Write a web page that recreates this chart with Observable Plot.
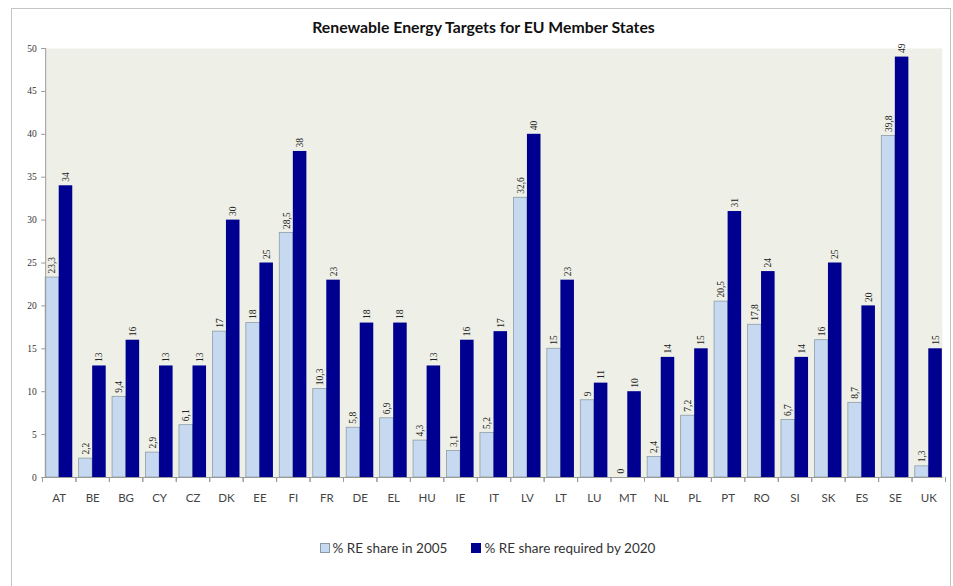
<!DOCTYPE html>
<html>
<head>
<meta charset="utf-8">
<script src="https://cdn.jsdelivr.net/npm/d3@7"></script>
<script src="https://cdn.jsdelivr.net/npm/@observablehq/plot@0.6"></script>
<style>
  html, body { margin: 0; padding: 0; background: #fff; }
  body { position: relative; width: 953px; height: 586px; overflow: hidden; font-family: Lato, "Open Sans", sans-serif; }
  #border { position: absolute; left: 11px; top: 8px; width: 940px; height: 620px; border: 1px solid #c4c4c4; box-sizing: border-box; pointer-events: none; }
  #title { height: 38px; box-sizing: border-box; padding-top: 17px; padding-left: 14px; line-height: 20px; font-size: 15.8px; font-weight: bold; text-align: center; color: #111; }
  #chart svg { display: block; }
  #legend { margin-top: 22px; height: 16px; line-height: 16px; font-size: 13.5px; color: #333; text-align: center; padding-left: 22px; }
  .item { display: inline-block; margin: 0 12px; }
  .sw { display: inline-block; width: 8px; height: 8px; margin-right: 3px; vertical-align: 0px; border: 1px solid #8c9aa8; }
</style>
</head>
<body>
<div id="border"></div>
<div id="title">Renewable Energy Targets for EU Member States</div>
<div id="chart"></div>
<div id="legend"></div>
<script>
const countries = ["AT","BE","BG","CY","CZ","DK","EE","FI","FR","DE","EL","HU","IE","IT","LV","LT","LU","MT","NL","PL","PT","RO","SI","SK","ES","SE","UK"];
const share2005 = [23.3,2.2,9.4,2.9,6.1,17,18,28.5,10.3,5.8,6.9,4.3,3.1,5.2,32.6,15,9,0,2.4,7.2,20.5,17.8,6.7,16,8.7,39.8,1.3];
const target2020 = [34,13,16,13,13,30,25,38,23,18,18,13,16,17,40,23,11,10,14,15,31,24,14,25,20,49,15];
const seriesNames = ["% RE share in 2005", "% RE share required by 2020"];
const seriesColors = ["#c6d9f1", "#000090"];
const yTicks = [0,5,10,15,20,25,30,35,40,45,50];

const rows = [];
countries.forEach((c, i) => {
  rows.push({country: c, series: seriesNames[0], value: share2005[i]});
  rows.push({country: c, series: seriesNames[1], value: target2020[i]});
});
const fmt = v => String(v).replace(".", ",");
const half = (953 - 42 - 8) / countries.length / 2;

const chart = Plot.plot({
  width: 953,
  height: 480,
  marginTop: 10,
  marginBottom: 41,
  marginLeft: 42,
  marginRight: 8,
  style: {fontFamily: "Lato, sans-serif", background: "transparent", color: "#333"},
  fx: {domain: countries, paddingInner: 0.19, paddingOuter: 0.095, round: false, label: null},
  x: {domain: seriesNames, padding: 0, round: false, axis: null},
  y: {domain: [0, 50], label: null},
  color: {domain: seriesNames, range: seriesColors},
  marks: [
    Plot.frame({fill: "#eef0e7", stroke: null, facet: "super"}),
    Plot.barY(rows.filter(d => d.series === seriesNames[0]), {fx: "country", x: "series", y: "value", fill: "series", stroke: "#8e9ea6", strokeWidth: 0.8}),
    Plot.barY(rows.filter(d => d.series === seriesNames[1]), {fx: "country", x: "series", y: "value", fill: "series"}),
    Plot.text(rows, {fx: "country", x: "series", y: "value", text: d => fmt(d.value), rotate: -90, textAnchor: "start", dy: -4, fontFamily: "Liberation Serif", fontSize: 9.5, fill: "#222"}),
    Plot.frame({anchor: "left", stroke: "#9a9a9a", facet: "super"}),
    Plot.frame({anchor: "bottom", stroke: "#9a9a9a", facet: "super"}),
    Plot.axisY({ticks: yTicks, tickSize: 4, tickPadding: 5, fontFamily: "Liberation Serif", fontSize: 9.5, stroke: "#9a9a9a", label: null}),
    Plot.axisFx({anchor: "bottom", tickSize: 0, tickPadding: 16, label: null, fontSize: 11.5, fill: "#444"}),
    Plot.axisFx({anchor: "bottom", tickSize: 5, tickFormat: () => "", dx: -half, stroke: "#9a9a9a", label: null}),
    Plot.axisFx({anchor: "bottom", tickSize: 5, tickFormat: () => "", dx: half, stroke: "#9a9a9a", label: null})
  ]
});
document.getElementById("chart").appendChild(chart);

const legend = document.getElementById("legend");
seriesNames.forEach((name, i) => {
  const item = document.createElement("span");
  item.className = "item";
  const sw = document.createElement("span");
  sw.className = "sw";
  sw.style.background = seriesColors[i];
  if (i === 1) sw.style.borderColor = seriesColors[i];
  item.appendChild(sw);
  item.appendChild(document.createTextNode(name));
  legend.appendChild(item);
});
</script>
</body>
</html>
